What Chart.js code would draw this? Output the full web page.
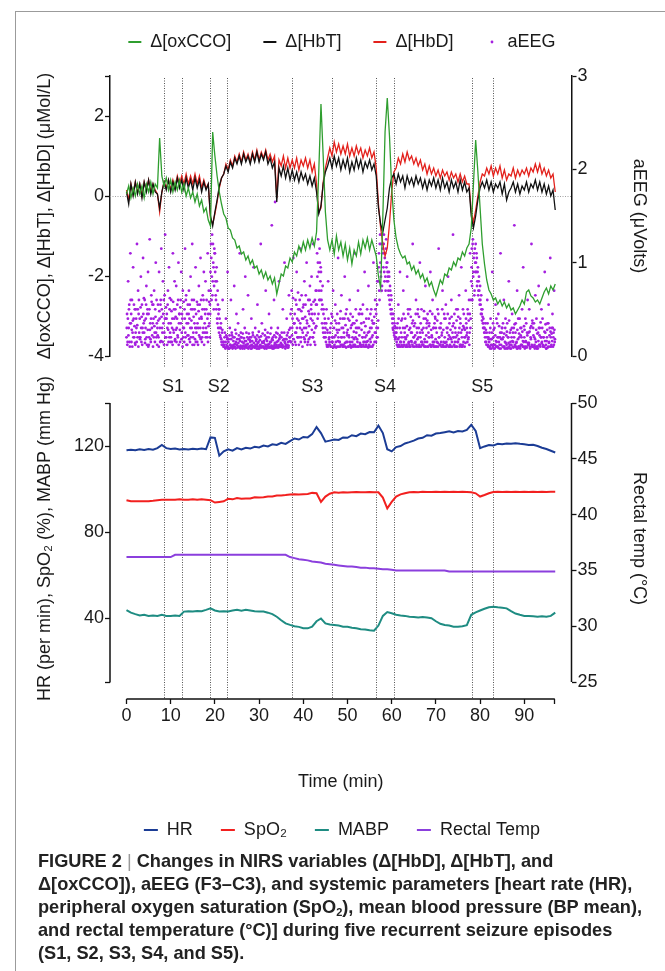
<!DOCTYPE html>
<html>
<head>
<meta charset="utf-8">
<script src="https://cdn.jsdelivr.net/npm/chart.js@4.4.1/dist/chart.umd.min.js"></script>
<style>
  html, body { margin: 0; padding: 0; background: #fff; }
  #page { position: relative; width: 665px; height: 971px; overflow: hidden; }
  #frame { position: absolute; left: 15px; top: 11px; width: 700px; height: 1000px; border: 1.5px solid #9b9b9b; }
  #topChart { position: absolute; left: 0; top: 0; }
  #bottomChart { position: absolute; left: 0; top: 360px; }
  #caption { position: absolute; left: 38px; top: 850px; font: bold 18.2px 'Liberation Sans', Arial, sans-serif;
             line-height: 23px; color: #222; white-space: nowrap; }
  #caption .bar { font-weight: normal; color: #999; }
  #caption sub { font-size: 11px; line-height: 0; vertical-align: -3px; }
</style>
</head>
<body>
<div id="page">
  <div id="frame"></div>
  <canvas id="topChart" width="665" height="380"></canvas>
  <canvas id="bottomChart" width="665" height="490"></canvas>
  <div id="caption">FIGURE 2 <span class="bar">|</span> Changes in NIRS variables (Δ[HbD], Δ[HbT], and<br>Δ[oxCCO]), aEEG (F3–C3), and systemic parameters [heart rate (HR),<br>peripheral oxygen saturation (SpO<sub>2</sub>), mean blood pressure (BP mean),<br>and rectal temperature (°C)] during five recurrent seizure episodes<br>(S1, S2, S3, S4, and S5).</div>
</div>
<script>
Chart.defaults.font.family = "'Liberation Sans', Arial, sans-serif";
Chart.defaults.font.size = 18;
Chart.defaults.color = '#1a1a1a';

// time axis (min)
const timeMin = -3.73, timeMax = 100.68;
const timeTicks = [0, 10, 20, 30, 40, 50, 60, 70, 80, 90];
const timeEnd = 96.9;
const nirsStep = 0.5;   // NIRS traces sampled every half minute
const vitalsStep = 1;   // systemic traces every minute

// seizure start / end (min)
const seizureEdges = [8.5, 12.6, 18.9, 22.8, 37.5, 46.6, 56.5, 60.5, 78.1, 82.9];
const seizureNames = ['S1', 'S2', 'S3', 'S4', 'S5'];

// Δ[oxCCO] (µMol/L)
const oxcco = [
  0.05, 0.25, -0.05, 0.2, 0.0, 0.3, 0.05, 0.25, -0.05, 0.3,
  0.1, 0.35, 0.05, 0.3, 0.2, 1.45, 0.5, 0.25, 0.45, 0.15,
  0.4, 0.1, 0.35, 0.15, 0.4, 0.1, 0.3, 0.0, 0.2, -0.05,
  0.1, -0.15, 0.05, -0.25, -0.1, -0.4, -0.3, -0.6, -0.75, 1.6,
  1.0, 0.5, 0.1, -0.2, -0.45, -0.55, -0.8, -0.85, -1.05, -1.1,
  -1.3, -1.25, -1.45, -1.4, -1.6, -1.5, -1.7, -1.6, -1.8, -1.75,
  -1.95, -1.85, -2.05, -1.9, -2.1, -2.0, -2.2, -2.05, -2.45, -2.2,
  -1.95, -2.0, -1.75, -1.8, -1.55, -1.65, -1.4, -1.5, -1.25, -1.4,
  -1.15, -1.35, -1.1, -1.3, -1.05, -1.25, -0.9, 0.6, 2.3, 1.0,
  -0.4, -1.1, -1.35, -1.1, -1.45, -1.0, -1.35, -1.15, -1.5, -1.2,
  -1.6, -1.3, -1.7, -1.35, -1.5, -1.15, -1.45, -1.1, -1.3, -1.05,
  -1.35, -1.1, -1.3, -1.5, -2.0, -2.3, -0.5, 1.6, 2.45, 1.5,
  0.2, -0.6, -1.05, -1.3, -1.45, -1.55, -1.5, -1.7, -1.65, -1.85,
  -1.75, -1.95, -1.85, -2.05, -1.95, -2.15, -2.05, -2.25, -2.15, -2.35,
  -2.5, -2.3, -2.1, -2.2, -1.95, -2.0, -1.8, -1.85, -1.65, -1.75,
  -1.55, -1.6, -1.4, -1.5, -1.3, -1.2, -0.8, 0.3, 1.4, 0.6,
  -0.3, -1.2, -1.7, -2.1, -2.35, -2.45, -2.6, -2.55, -2.7, -2.6,
  -2.75, -2.65, -2.8, -2.7, -2.85, -2.8, -2.95, -2.85, -2.75, -2.6,
  -2.7, -2.4, -2.35, -2.5, -2.55, -2.65, -2.6, -2.7, -2.55, -2.4,
  -2.3, -2.45, -2.25, -2.35, -2.2
];

// Δ[HbT] (µMol/L)
const hbt = [
  0.1, -0.2, 0.3, 0.0, 0.35, 0.05, 0.3, -0.05, 0.35, 0.1,
  0.4, 0.05, 0.3, 0.1, 0.05, -0.3, 0.1, 0.35, 0.15, 0.4,
  0.1, 0.35, 0.15, 0.45, 0.2, 0.4, 0.15, 0.45, 0.2, 0.4,
  0.15, 0.45, 0.2, 0.4, 0.1, 0.35, 0.15, 0.3, -0.5, -0.75,
  -0.4, -0.1, 0.25, 0.45, 0.55, 0.75, 0.6, 0.85, 0.7, 0.95,
  0.8, 1.0, 0.8, 1.05, 0.85, 1.0, 0.8, 1.05, 0.85, 1.1,
  0.85, 1.05, 0.9, 1.1, 0.8, 0.95, 0.7, 0.85, -0.15, 0.7,
  0.5, 0.75, 0.45, 0.7, 0.4, 0.65, 0.4, 0.6, 0.35, 0.6,
  0.4, 0.55, 0.3, 0.5, 0.25, 0.45, 0.1, -0.45, -0.25, 0.3,
  0.6, 0.75, 0.95, 0.7, 1.0, 0.75, 0.95, 0.65, 0.9, 0.7,
  0.95, 0.6, 0.85, 0.65, 0.95, 0.7, 0.9, 0.6, 0.85, 0.7,
  0.9, 0.65, 0.8, 0.5, -0.3, -0.7, -0.9, -0.6, -0.3, 0.2,
  0.45, 0.55, 0.3, 0.55, 0.35, 0.5, 0.2, 0.5, 0.3, 0.45,
  0.25, 0.5, 0.3, 0.45, 0.2, 0.4, 0.15, 0.4, 0.25, 0.45,
  0.2, 0.4, 0.15, 0.45, 0.2, 0.35, 0.1, 0.4, 0.2, 0.35,
  0.1, 0.4, 0.15, 0.35, 0.1, 0.2, -0.5, -0.8, -0.5, -0.1,
  0.2, 0.35, 0.2, 0.4, 0.15, 0.35, 0.1, 0.3, 0.2, 0.35,
  0.05, 0.3, -0.1, 0.1, 0.2, 0.35, 0.1, 0.3, 0.05, 0.25,
  0.15, 0.35, 0.1, 0.3, 0.2, 0.4, 0.15, 0.35, 0.1, 0.3,
  0.05, 0.25, 0.0, 0.15, -0.35
];

// Δ[HbD] (µMol/L)
const hbd = [
  0.15, -0.1, 0.3, 0.05, 0.35, 0.1, 0.3, 0.0, 0.35, 0.15,
  0.4, 0.1, 0.3, 0.15, 0.05, -0.4, 0.1, 0.35, 0.2, 0.4,
  0.15, 0.4, 0.2, 0.5, 0.3, 0.5, 0.3, 0.55, 0.3, 0.5,
  0.3, 0.55, 0.3, 0.5, 0.2, 0.4, 0.2, 0.3, -0.55, -0.7,
  -0.45, -0.15, 0.2, 0.45, 0.55, 0.8, 0.65, 0.9, 0.75, 1.0,
  0.85, 1.05, 0.85, 1.1, 0.9, 1.05, 0.85, 1.1, 0.9, 1.15,
  0.9, 1.1, 0.95, 1.15, 0.9, 1.05, 0.85, 1.0, -0.05, 0.9,
  0.75, 1.0, 0.7, 0.95, 0.7, 0.9, 0.7, 0.95, 0.65, 0.9,
  0.75, 0.95, 0.7, 0.9, 0.6, 0.8, 0.3, -0.4, -0.3, 0.35,
  0.7, 0.95, 1.2, 1.0, 1.35, 1.1, 1.3, 1.05, 1.25, 1.05,
  1.3, 1.0, 1.2, 1.0, 1.25, 1.05, 1.2, 0.95, 1.15, 1.0,
  1.2, 0.95, 1.1, 0.7, -0.2, -0.8, -1.2, -1.5, -1.3, -0.7,
  0.1, 0.6, 0.7, 0.95, 0.8, 1.05, 0.85, 1.1, 0.9, 1.0,
  0.8, 0.95, 0.75, 0.9, 0.65, 0.8, 0.55, 0.75, 0.55, 0.7,
  0.5, 0.65, 0.45, 0.65, 0.5, 0.6, 0.4, 0.6, 0.45, 0.55,
  0.35, 0.55, 0.35, 0.5, 0.3, 0.3, -0.4, -0.65, -0.35, 0.0,
  0.35, 0.55, 0.5, 0.7, 0.55, 0.75, 0.5, 0.7, 0.55, 0.75,
  0.45, 0.65, 0.4, 0.55, 0.5, 0.7, 0.45, 0.65, 0.5, 0.65,
  0.55, 0.7, 0.5, 0.7, 0.6, 0.8, 0.6, 0.8, 0.55, 0.7,
  0.5, 0.65, 0.45, 0.55, 0.1
];

// aEEG (µV), eight readings per minute, minute 0 .. 96
const aeeg = [
  [0.2,0.45,0.15,0.8,0.3,0.55,0.1,1.1], [0.35,0.15,0.6,0.25,0.95,0.4,0.2,0.5],
  [0.12,0.5,0.3,1.2,0.2,0.7,0.45,0.25], [0.4,0.2,0.85,0.15,0.55,0.3,1.05,0.35],
  [0.25,0.6,0.18,0.4,0.75,0.12,0.5,0.9], [0.45,0.2,1.25,0.35,0.15,0.65,0.3,0.55],
  [0.1,0.4,0.7,0.25,0.5,1.0,0.2,0.35], [0.3,0.55,0.2,0.9,0.4,0.15,0.6,1.15],
  [0.5,0.25,0.8,0.35,0.12,0.65,1.3,0.4], [0.2,0.45,0.3,0.7,0.15,0.95,0.5,0.25],
  [0.35,0.6,0.15,0.4,1.1,0.28,0.5,0.8], [0.18,0.42,0.75,0.3,0.55,0.2,1.0,0.35],
  [0.45,0.15,0.6,0.9,0.25,0.4,0.7,0.2], [0.3,0.5,1.15,0.2,0.65,0.35,0.12,0.55],
  [0.22,0.7,0.4,0.15,0.85,0.5,0.3,1.2], [0.5,0.25,0.6,0.35,0.18,0.95,0.45,0.3],
  [0.15,0.55,0.3,0.75,0.4,0.2,1.05,0.6], [0.4,0.2,0.65,0.3,0.9,0.5,0.25,0.8],
  [0.3,0.6,0.2,1.1,0.45,0.7,0.35,0.55], [0.9,1.2,0.6,1.3,0.8,1.0,0.5,1.15],
  [1.1,0.8,0.6,0.95,0.4,0.7,0.3,0.5], [0.5,0.3,0.2,0.35,0.15,0.25,0.6,0.12],
  [0.15,0.1,0.25,0.08,0.4,0.12,0.2,0.9], [0.1,0.18,0.08,0.3,0.12,0.6,0.1,0.22],
  [0.08,0.2,0.12,0.75,0.1,0.28,0.15,0.45], [0.12,0.09,0.35,0.1,0.18,1.1,0.08,0.25],
  [0.2,0.1,0.08,0.5,0.14,0.1,0.3,0.85], [0.1,0.25,0.12,0.09,0.65,0.18,0.1,0.2],
  [0.15,0.08,0.4,0.12,0.1,0.22,0.95,0.1], [0.09,0.3,0.1,0.18,0.12,0.55,0.08,0.15],
  [0.2,0.1,0.12,1.2,0.09,0.35,0.14,0.1], [0.1,0.16,0.08,0.28,0.7,0.1,0.2,0.12],
  [0.12,0.09,0.45,0.1,0.15,0.09,0.3,1.4], [0.08,0.2,0.1,0.6,0.12,1.65,0.1,0.25],
  [0.15,0.1,0.3,0.09,0.8,0.12,0.2,0.1], [0.1,0.25,0.12,0.5,0.1,0.18,1.0,0.14],
  [0.18,0.1,0.4,0.12,0.25,0.09,0.65,0.2], [0.2,0.45,0.15,0.7,0.3,0.12,1.05,0.35],
  [0.35,0.15,0.6,0.25,0.9,0.4,0.2,0.5], [0.12,0.5,0.3,1.15,0.2,0.65,0.4,0.25],
  [0.4,0.2,0.8,0.15,0.55,0.3,1.0,0.35], [0.25,0.6,0.18,0.45,0.75,0.12,0.5,0.85],
  [0.45,0.2,1.2,0.35,0.15,0.6,0.3,0.55], [0.7,1.1,0.4,1.25,0.9,0.6,1.0,0.8],
  [0.9,0.6,0.35,0.75,0.25,0.5,0.2,0.4], [0.3,0.15,0.5,0.1,0.25,0.8,0.12,0.2],
  [0.12,0.3,0.1,0.45,0.2,0.15,0.7,0.1], [0.2,0.1,0.55,0.15,0.35,0.1,0.25,1.05],
  [0.1,0.28,0.15,0.4,0.12,0.65,0.2,0.1], [0.3,0.12,0.2,0.85,0.1,0.45,0.15,0.25],
  [0.15,0.4,0.1,0.2,0.6,0.12,0.3,0.1], [0.1,0.2,0.35,0.12,0.18,1.1,0.1,0.5],
  [0.25,0.1,0.15,0.7,0.1,0.3,0.45,0.12], [0.12,0.35,0.1,0.2,0.55,0.15,0.1,0.9],
  [0.2,0.1,0.4,0.15,0.1,0.25,0.75,0.12], [0.1,0.3,0.15,0.5,0.2,0.1,0.35,1.0],
  [0.35,0.15,0.6,0.25,0.45,0.2,0.8,0.3], [0.8,1.1,0.6,1.3,0.9,1.2,0.7,1.35],
  [1.2,0.95,1.3,0.8,1.1,0.7,1.25,1.0], [1.0,0.85,0.7,0.9,0.6,0.75,0.5,0.65],
  [0.5,0.4,0.3,0.45,0.25,0.35,0.2,0.3], [0.2,0.15,0.3,0.1,0.55,0.12,0.2,0.9],
  [0.1,0.25,0.12,0.4,0.1,0.7,0.15,0.2], [0.3,0.1,0.2,0.12,0.85,0.1,0.45,0.15],
  [0.12,0.5,0.1,0.25,0.15,0.35,1.2,0.1], [0.2,0.1,0.35,0.15,0.6,0.12,0.25,0.45],
  [0.1,0.3,0.12,1.0,0.2,0.1,0.5,0.15], [0.25,0.12,0.4,0.1,0.15,0.75,0.1,0.3],
  [0.15,0.45,0.1,0.2,0.35,0.12,0.9,0.1], [0.1,0.2,0.6,0.12,0.3,0.15,0.1,0.4],
  [0.3,0.1,0.15,0.5,0.1,1.15,0.2,0.12], [0.12,0.35,0.1,0.25,0.7,0.1,0.15,0.45],
  [0.2,0.1,0.55,0.15,0.12,0.3,0.85,0.1], [0.1,0.4,0.2,0.1,0.6,0.15,0.25,1.3],
  [0.35,0.12,0.1,0.3,0.2,0.5,0.1,0.15], [0.15,0.25,0.65,0.1,0.4,0.12,0.95,0.2],
  [0.1,0.5,0.15,0.3,0.1,0.2,0.7,0.35], [0.3,0.15,0.45,0.2,0.6,0.25,1.1,0.4],
  [0.8,1.15,0.6,1.25,0.9,1.1,0.7,1.0], [1.2,0.9,1.05,0.8,0.95,0.7,0.85,0.6],
  [0.75,0.55,0.65,0.45,0.5,0.35,0.4,0.3], [0.3,0.2,0.35,0.15,0.25,0.6,0.12,0.2],
  [0.1,0.25,0.08,0.4,0.12,0.18,0.9,0.1], [0.2,0.08,0.3,0.12,0.55,0.1,0.15,0.35],
  [0.1,0.45,0.15,0.08,0.2,1.1,0.12,0.25], [0.3,0.1,0.2,0.6,0.1,0.15,0.4,0.08],
  [0.12,0.35,0.08,0.2,0.8,0.1,0.25,0.15], [0.08,0.2,0.45,0.1,0.15,0.3,1.4,0.12],
  [0.25,0.1,0.15,0.7,0.08,0.4,0.1,0.2], [0.1,0.3,0.12,0.2,0.5,0.1,0.95,0.15],
  [0.2,0.08,0.4,0.15,0.1,0.25,0.6,0.12], [0.12,0.5,0.1,0.3,0.18,1.2,0.1,0.35],
  [0.3,0.1,0.2,0.08,0.65,0.15,0.4,0.1], [0.1,0.25,0.75,0.12,0.3,0.1,0.2,0.5],
  [0.15,0.4,0.1,0.2,0.1,0.9,0.25,0.12], [0.08,0.2,0.35,0.1,0.55,0.15,0.3,1.05],
  [0.2,0.12,0.3,0.45,0.1,0.25,0.7,0.15]
];
// aEEG, the readings in between (half a slot later), minute 0 .. 96
const aeegMid = [
  [0.3,0.12,0.4,0.22,0.5,0.15,0.35,0.6], [0.45,0.28,0.1,0.38,0.2,0.55,0.32,0.14],
  [0.25,0.4,0.15,0.33,0.5,0.1,0.6,0.2], [0.18,0.52,0.3,0.42,0.12,0.25,0.45,0.62],
  [0.38,0.14,0.3,0.55,0.2,0.45,0.28,0.1], [0.12,0.5,0.28,0.18,0.4,0.58,0.22,0.35],
  [0.55,0.2,0.32,0.15,0.42,0.25,0.6,0.12], [0.22,0.38,0.1,0.48,0.3,0.55,0.16,0.42],
  [0.3,0.15,0.45,0.6,0.25,0.4,0.2,0.52], [0.4,0.12,0.55,0.28,0.35,0.2,0.62,0.15],
  [0.2,0.48,0.3,0.12,0.58,0.25,0.4,0.16], [0.5,0.28,0.15,0.4,0.22,0.6,0.12,0.45],
  [0.28,0.52,0.35,0.18,0.45,0.1,0.3,0.58], [0.15,0.4,0.25,0.6,0.12,0.45,0.22,0.35],
  [0.45,0.18,0.55,0.3,0.2,0.38,0.6,0.12], [0.2,0.42,0.12,0.5,0.3,0.15,0.25,0.58],
  [0.35,0.12,0.48,0.22,0.55,0.3,0.18,0.42], [0.15,0.5,0.25,0.6,0.12,0.35,0.45,0.2],
  [0.5,0.25,0.4,0.15,0.32,0.58,0.2,0.45], [0.7,1.05,0.85,0.65,1.2,0.95,0.75,1.1],
  [0.9,0.65,0.5,0.8,0.35,0.55,0.45,0.25], [0.4,0.22,0.3,0.18,0.12,0.28,0.15,0.1],
  [0.12,0.2,0.09,0.15,0.22,0.1,0.18,0.08], [0.15,0.08,0.22,0.12,0.09,0.18,0.25,0.11],
  [0.1,0.16,0.09,0.2,0.13,0.08,0.24,0.12], [0.18,0.1,0.14,0.22,0.09,0.16,0.11,0.2],
  [0.09,0.15,0.24,0.11,0.19,0.08,0.16,0.12], [0.16,0.09,0.2,0.13,0.08,0.24,0.1,0.17],
  [0.11,0.2,0.08,0.16,0.25,0.1,0.14,0.09], [0.2,0.12,0.16,0.08,0.22,0.14,0.1,0.26],
  [0.08,0.17,0.11,0.21,0.1,0.15,0.24,0.09], [0.14,0.09,0.22,0.12,0.18,0.08,0.16,0.25],
  [0.1,0.2,0.13,0.09,0.24,0.15,0.11,0.18], [0.17,0.1,0.08,0.22,0.14,0.09,0.2,0.12],
  [0.09,0.24,0.16,0.11,0.18,0.22,0.1,0.14], [0.2,0.12,0.09,0.17,0.1,0.25,0.15,0.08],
  [0.12,0.18,0.22,0.09,0.15,0.11,0.28,0.16], [0.3,0.15,0.5,0.22,0.4,0.62,0.18,0.35],
  [0.45,0.25,0.12,0.55,0.3,0.2,0.68,0.38], [0.2,0.6,0.35,0.15,0.48,0.28,0.1,0.52],
  [0.55,0.3,0.18,0.42,0.65,0.22,0.38,0.12], [0.15,0.48,0.32,0.6,0.2,0.4,0.55,0.28],
  [0.38,0.2,0.58,0.25,0.45,0.12,0.7,0.32], [0.55,0.85,1.0,0.45,0.7,1.15,0.6,0.95],
  [0.7,0.5,0.55,0.3,0.45,0.2,0.35,0.25], [0.2,0.35,0.12,0.28,0.1,0.4,0.18,0.15],
  [0.25,0.1,0.35,0.15,0.42,0.2,0.09,0.3], [0.12,0.38,0.22,0.09,0.28,0.45,0.16,0.2],
  [0.35,0.15,0.1,0.48,0.2,0.3,0.12,0.4], [0.1,0.25,0.4,0.14,0.33,0.09,0.5,0.22],
  [0.28,0.1,0.22,0.38,0.15,0.45,0.09,0.33], [0.15,0.42,0.1,0.26,0.35,0.12,0.2,0.3],
  [0.38,0.18,0.3,0.1,0.45,0.22,0.14,0.5], [0.1,0.28,0.45,0.2,0.12,0.36,0.25,0.15],
  [0.32,0.12,0.22,0.5,0.16,0.09,0.4,0.26], [0.18,0.45,0.1,0.3,0.38,0.22,0.12,0.35],
  [0.42,0.25,0.5,0.15,0.3,0.55,0.2,0.38], [0.95,0.7,1.2,1.0,0.85,1.3,0.75,1.15],
  [1.1,1.2,0.9,1.05,0.85,1.15,0.95,0.8], [0.9,0.8,0.65,0.85,0.55,0.7,0.45,0.6],
  [0.45,0.35,0.28,0.4,0.22,0.32,0.18,0.25], [0.25,0.12,0.35,0.18,0.4,0.1,0.3,0.15],
  [0.15,0.38,0.2,0.1,0.3,0.45,0.12,0.25], [0.4,0.18,0.1,0.32,0.22,0.5,0.14,0.28],
  [0.1,0.3,0.42,0.16,0.25,0.12,0.38,0.2], [0.32,0.14,0.22,0.45,0.1,0.3,0.18,0.5],
  [0.2,0.42,0.1,0.25,0.35,0.15,0.28,0.12], [0.12,0.3,0.48,0.18,0.1,0.4,0.22,0.35],
  [0.38,0.1,0.25,0.32,0.2,0.48,0.12,0.28], [0.22,0.45,0.15,0.3,0.1,0.35,0.42,0.18],
  [0.1,0.25,0.38,0.14,0.45,0.2,0.3,0.12], [0.3,0.15,0.22,0.5,0.12,0.28,0.1,0.4],
  [0.14,0.4,0.1,0.3,0.25,0.45,0.18,0.22], [0.35,0.12,0.28,0.18,0.42,0.1,0.32,0.2],
  [0.2,0.45,0.15,0.25,0.1,0.38,0.22,0.5], [0.42,0.18,0.3,0.12,0.35,0.25,0.1,0.28],
  [0.12,0.32,0.45,0.2,0.28,0.14,0.4,0.22], [0.25,0.5,0.18,0.38,0.12,0.45,0.3,0.6],
  [0.95,0.75,1.2,0.85,1.05,0.65,1.15,0.9], [1.0,1.1,0.75,0.9,0.65,0.8,0.7,0.55],
  [0.6,0.45,0.5,0.38,0.42,0.3,0.35,0.25], [0.25,0.15,0.28,0.12,0.2,0.35,0.1,0.18],
  [0.15,0.1,0.3,0.18,0.08,0.25,0.12,0.35], [0.28,0.12,0.08,0.22,0.16,0.4,0.1,0.2],
  [0.09,0.2,0.32,0.12,0.25,0.08,0.18,0.3], [0.18,0.35,0.1,0.24,0.08,0.3,0.14,0.22],
  [0.26,0.09,0.2,0.14,0.38,0.12,0.08,0.28], [0.12,0.3,0.16,0.25,0.09,0.2,0.34,0.1],
  [0.35,0.14,0.08,0.28,0.18,0.1,0.24,0.4], [0.08,0.22,0.3,0.12,0.26,0.16,0.1,0.32],
  [0.28,0.1,0.16,0.35,0.09,0.22,0.14,0.25], [0.14,0.26,0.08,0.2,0.32,0.12,0.38,0.1],
  [0.22,0.35,0.12,0.18,0.1,0.28,0.08,0.24], [0.08,0.16,0.3,0.22,0.12,0.36,0.2,0.14],
  [0.3,0.12,0.2,0.1,0.26,0.16,0.34,0.08], [0.16,0.28,0.09,0.35,0.14,0.22,0.1,0.26],
  [0.1,0.24,0.16,0.3,0.2,0.12,0.28,0.18]
];

// systemic parameters, minute 0 .. 97
const hr = [
  118, 118.3, 118, 118.5, 118.2, 118.6, 118.3, 119, 120.5, 119,
  118.6, 118.8, 118.4, 118.6, 118.4, 118.7, 118.5, 118.8, 118.5, 124,
  123.8, 115.5, 117.5, 118.5, 117.8, 119, 118.4, 119.2, 118.8, 119.6,
  119.3, 120.2, 119.8, 120.8, 120.5, 121.5, 121, 122.3, 123.5, 123,
  124.2, 124, 125.5, 128.8, 126, 122, 122.5, 123, 122.8, 124,
  123.8, 125, 124.6, 125.8, 125.5, 126.5, 126.4, 129.5, 126, 118.5,
  117.5, 119.5, 120, 121.2, 121.8, 122.5, 123.5, 123.8, 125, 124.8,
  125.8, 126, 126.4, 126.8, 126.3, 127, 126.8, 127.5, 129.8, 127,
  119, 119.8, 120.5, 120.2, 121, 120.8, 121.2, 121, 121.3, 121,
  120.8, 120.5, 120.6, 120, 119.2, 118.6, 117.8, 117
];
const spo2 = [
  94.8, 94.3, 94.3, 94.3, 94.3, 94.3, 94.5, 94.8, 95, 95,
  95, 95, 95.2, 95, 95, 95.2, 95, 95.2, 95, 94.8,
  93.7, 94, 94.3, 95.5, 95.2, 95.8, 95.5, 95.6, 95.6, 96.2,
  96, 96.2, 96.5, 96.5, 97, 97, 97.2, 97.5, 97.6, 97.5,
  97.6, 97.7, 98.2, 98, 94, 96.5, 97.8, 98.5, 98.3, 98.5,
  98.4, 98.5, 98.6, 98.5, 98.5, 98.6, 98.5, 98.5, 96, 91,
  94, 96.5, 97.5, 98, 98.5, 98.6, 98.5, 98.7, 98.6, 98.6,
  98.7, 98.6, 98.7, 98.6, 98.7, 98.6, 98.7, 98.6, 98.5, 98,
  96.5, 97.2, 98, 98.6, 98.7, 98.6, 98.7, 98.6, 98.7, 98.6,
  98.7, 98.6, 98.7, 98.6, 98.7, 98.6, 98.7, 98.7
];
const mabp = [
  43.7, 42.5, 41.8, 41.2, 41.5, 41, 41.2, 41, 41.5, 41,
  41, 41.2, 41, 43, 43.2, 43, 43.3, 43.2, 43.8, 44.5,
  43.5, 43, 43.2, 43, 43.5, 43.8, 43.4, 43.8, 43.5, 43.2,
  43, 43, 42.5, 41.8, 40.6, 39, 37.5, 36.8, 36.2, 35.9,
  35.3, 35.2, 36, 38.5, 39.8, 37.5, 37, 36.8, 36.5, 36,
  35.9, 35.5, 35.2, 34.8, 34.7, 34.3, 34.1, 36.5, 41, 42.8,
  42.2, 41.5, 41.2, 41, 40.6, 40.5, 40.3, 40.5, 40.2, 39.9,
  38.5, 37.3, 36.8, 36.5, 36, 35.9, 36.2, 36.7, 41.5, 42.6,
  43.5, 44.3, 45, 45.3, 45, 44.8, 44.5, 43.2, 42.1, 41.5,
  41, 40.9, 40.8, 40.6, 40.8, 40.6, 41, 42.5
];
const rectalTemp = [
  36.2, 36.2, 36.2, 36.2, 36.2, 36.2, 36.2, 36.2, 36.2, 36.2,
  36.2, 36.4, 36.4, 36.4, 36.4, 36.4, 36.4, 36.4, 36.4, 36.4,
  36.4, 36.4, 36.4, 36.4, 36.4, 36.4, 36.4, 36.4, 36.4, 36.4,
  36.4, 36.4, 36.4, 36.4, 36.4, 36.4, 36.4, 36.2, 36.1, 36.0,
  35.95, 35.9, 35.8, 35.75, 35.7, 35.6, 35.55, 35.5, 35.45, 35.4,
  35.35, 35.35, 35.3, 35.25, 35.25, 35.2, 35.2, 35.15, 35.1, 35.1,
  35.05, 35.0, 35.0, 35.0, 35.0, 35.0, 35.0, 35.0, 35.0, 35.0,
  35.0, 35.0, 35.0, 34.9, 34.9, 34.9, 34.9, 34.9, 34.9, 34.9,
  34.9, 34.9, 34.9, 34.9, 34.9, 34.9, 34.9, 34.9, 34.9, 34.9,
  34.9, 34.9, 34.9, 34.9, 34.9, 34.9, 34.9, 34.9
];

// axis ticks
const nirsTicks = [-4, -2, 0, 2, 3];
const aeegTicks = [0, 1, 2, 3];
const vitalTicks = [10, 40, 80, 120, 140];
const tempTicks = [25, 30, 35, 40, 45, 50];

const colors = {
  oxcco: '#2f9e2f', hbt: '#111111', hbd: '#e3211c', aeeg: '#a51fe0',
  hr: '#1b3c95', spo2: '#f2201f', mabp: '#1e8c82', temp: '#8b3fdd'
};

const series = (arr, step) => arr.map((v, i) => ({ x: i * step, y: v }));
const perMinute = (groups, shift) =>
  groups.flatMap((grp, m) => grp.map((v, k) => ({ x: m + (k + shift) / grp.length, y: v })));
const aeegPoints = perMinute(aeeg, 0).concat(perMinute(aeegMid, 0.5));
const setTicks = list => s => { s.ticks = list.map(v => ({ value: v })); };

const tickGrid = { display: true, drawOnChartArea: false, drawTicks: true, tickLength: 5, color: '#111', tickWidth: 1.3 };

// small dot used as the aEEG legend marker
const dotImg = document.createElement('canvas');
dotImg.width = 6; dotImg.height = 6;
const dctx = dotImg.getContext('2d');
dctx.fillStyle = colors.aeeg;
dctx.beginPath(); dctx.arc(3, 3, 1.4, 0, Math.PI * 2); dctx.fill();

function legendItems(chart) {
  const items = Chart.defaults.plugins.legend.labels.generateLabels(chart);
  items.forEach(item => {
    const ds = chart.data.datasets[item.datasetIndex];
    item.pointStyle = ds.showLine ? 'line' : dotImg;
    item.strokeStyle = ds.borderColor;
    item.lineWidth = 2;
  });
  return items;
}

function seizureLines(ctx, x, y1, y2) {
  ctx.beginPath();
  seizureEdges.forEach(t => {
    const px = Math.round(x.getPixelForValue(t)) + 0.5;
    ctx.moveTo(px, y1); ctx.lineTo(px, y2);
  });
  ctx.stroke();
}

const nirsDecor = {
  id: 'nirsDecor',
  beforeDatasetsDraw(chart) {
    const { ctx, chartArea: a, scales: { x, yL } } = chart;
    ctx.save();
    ctx.lineWidth = 1;
    ctx.setLineDash([1, 1.5]);
    ctx.strokeStyle = '#a0a0a0';
    const y0 = Math.round(yL.getPixelForValue(0)) + 0.5;
    ctx.beginPath(); ctx.moveTo(a.left, y0); ctx.lineTo(a.right, y0); ctx.stroke();
    ctx.strokeStyle = '#555';
    seizureLines(ctx, x, a.top + 2, a.bottom + 11);
    ctx.restore();
  }
};

const vitalsDecor = {
  id: 'vitalsDecor',
  beforeDatasetsDraw(chart) {
    const { ctx, chartArea: a, scales: { x, yL, yR } } = chart;
    ctx.save();
    ctx.lineWidth = 1;
    ctx.setLineDash([1, 1.5]);
    ctx.strokeStyle = '#555';
    seizureLines(ctx, x, a.top - 1, a.bottom);
    ctx.setLineDash([]);
    ctx.fillStyle = '#1a1a1a';
    ctx.font = "18px 'Liberation Sans', Arial, sans-serif";
    ctx.textAlign = 'center';
    ctx.textBaseline = 'middle';
    seizureNames.forEach((s, i) => {
      const mid = (seizureEdges[2 * i] + seizureEdges[2 * i + 1]) / 2;
      ctx.fillText(s, x.getPixelForValue(mid), a.top - 16);
    });
    // detached axis lines
    ctx.strokeStyle = '#111';
    ctx.lineWidth = 1.5;
    ctx.beginPath();
    ctx.moveTo(a.left, yL.getPixelForValue(vitalTicks[vitalTicks.length - 1]));
    ctx.lineTo(a.left, yL.getPixelForValue(vitalTicks[0]));
    ctx.moveTo(a.right, yR.getPixelForValue(tempTicks[tempTicks.length - 1]));
    ctx.lineTo(a.right, yR.getPixelForValue(tempTicks[0]));
    ctx.moveTo(x.getPixelForValue(0), a.bottom);
    ctx.lineTo(x.getPixelForValue(timeEnd), a.bottom);
    ctx.stroke();
    ctx.restore();
  }
};

const lineDs = (label, data, color, axis, width) => ({
  label, data, yAxisID: axis, showLine: true, borderColor: color, backgroundColor: color,
  borderWidth: width, pointRadius: 0, tension: 0, fill: false
});

new Chart(document.getElementById('topChart'), {
  type: 'scatter',
  data: {
    datasets: [
      Object.assign(lineDs('Δ[oxCCO]', series(oxcco, nirsStep), colors.oxcco, 'yL', 1.3), { order: 0 }),
      Object.assign(lineDs('Δ[HbT]', series(hbt, nirsStep), colors.hbt, 'yL', 1.3), { order: 1 }),
      Object.assign(lineDs('Δ[HbD]', series(hbd, nirsStep), colors.hbd, 'yL', 1.3), { order: 2 }),
      {
        label: 'aEEG', data: aeegPoints, yAxisID: 'yR', showLine: false, order: 3,
        pointRadius: 1.4, pointBorderWidth: 0, backgroundColor: colors.aeeg, borderColor: colors.aeeg
      }
    ]
  },
  options: {
    responsive: false, animation: false, devicePixelRatio: 1, events: [],
    layout: { padding: { left: 30, right: 11.2, top: 1, bottom: 24 } },
    plugins: {
      tooltip: { enabled: false },
      legend: {
        position: 'top',
        labels: { usePointStyle: true, pointStyleWidth: 13, boxHeight: 2, padding: 32, color: '#1a1a1a',
                  font: { size: 18 }, generateLabels: legendItems }
      }
    },
    scales: {
      x: {
        type: 'linear', position: 'top', min: timeMin, max: timeMax,
        ticks: { display: false }, grid: { display: false }, border: { display: false },
        afterFit: s => { s.height = 15; }
      },
      yL: {
        type: 'linear', position: 'left', min: -4, max: 3,
        afterBuildTicks: setTicks(nirsTicks),
        afterFit: s => { s.width = 80; },
        ticks: { padding: 1, callback: v => (v === 3 ? '' : v) },
        grid: tickGrid, border: { display: true, color: '#111', width: 1.5 },
        title: { display: true, text: 'Δ[oxCCO], Δ[HbT], Δ[HbD] (μMol/L)', font: { size: 18 } }
      },
      yR: {
        type: 'linear', position: 'right', min: 0, max: 3,
        afterBuildTicks: setTicks(aeegTicks),
        afterFit: s => { s.width = 82.3; },
        ticks: { padding: 1 },
        grid: tickGrid, border: { display: true, color: '#111', width: 1.5 },
        title: { display: true, text: 'aEEG (μVolts)', font: { size: 18 } }
      }
    }
  },
  plugins: [nirsDecor]
});

new Chart(document.getElementById('bottomChart'), {
  type: 'scatter',
  data: {
    datasets: [
      lineDs('HR', series(hr, vitalsStep), colors.hr, 'yL', 2),
      lineDs('SpO₂', series(spo2, vitalsStep), colors.spo2, 'yL', 2),
      lineDs('MABP', series(mabp, vitalsStep), colors.mabp, 'yL', 2),
      lineDs('Rectal Temp', series(rectalTemp, vitalsStep), colors.temp, 'yR', 2)
    ]
  },
  options: {
    responsive: false, animation: false, devicePixelRatio: 1, events: [],
    layout: { padding: { left: 30, right: 11.2, top: 43, bottom: 1 } },
    plugins: {
      tooltip: { enabled: false },
      legend: {
        position: 'bottom',
        labels: { usePointStyle: true, pointStyleWidth: 14, boxHeight: 2, padding: 28, color: '#1a1a1a',
                  font: { size: 18 }, generateLabels: legendItems }
      }
    },
    scales: {
      x: {
        type: 'linear', position: 'bottom', min: timeMin, max: timeMax,
        afterBuildTicks: setTicks(timeTicks.concat([timeEnd])),
        afterFit: s => { s.height = 94; },
        ticks: { padding: 1, maxRotation: 0, callback: v => (v === timeEnd ? '' : v) },
        grid: tickGrid, border: { display: false },
        title: { display: true, text: 'Time (min)', font: { size: 18 }, padding: { top: 0, bottom: 0 } }
      },
      yL: {
        type: 'linear', position: 'left', min: 2.35, max: 140,
        afterBuildTicks: setTicks(vitalTicks),
        afterFit: s => { s.width = 80; },
        ticks: { padding: 1, callback: v => (v === 10 || v === 140 ? '' : v) },
        grid: tickGrid, border: { display: false },
        // leading spaces keep the title centred on the drawn axis (10–140) rather than the plot box
        title: { display: true, text: '     HR (per min), SpO₂ (%), MABP (mm Hg)', font: { size: 18 } }
      },
      yR: {
        type: 'linear', position: 'right', min: 23.48, max: 50,
        afterBuildTicks: setTicks(tempTicks),
        afterFit: s => { s.width = 82.3; },
        ticks: { padding: 1 },
        grid: tickGrid, border: { display: false },
        title: { display: true, text: 'Rectal temp (°C)     ', font: { size: 18 } }
      }
    }
  },
  plugins: [vitalsDecor]
});
</script>
</body>
</html>
